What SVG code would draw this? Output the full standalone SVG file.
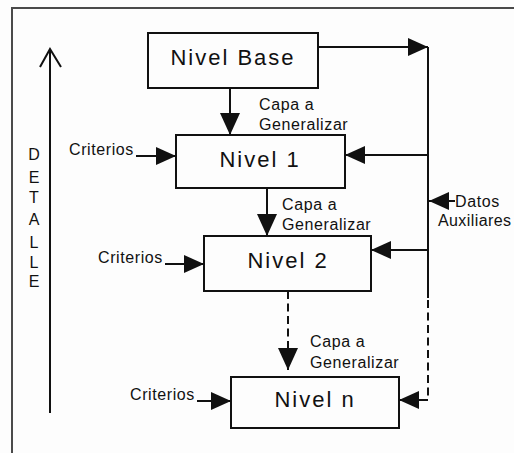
<svg xmlns="http://www.w3.org/2000/svg" width="514" height="453" viewBox="0 0 514 453">
  <style>
    .bg { fill: #fdfdfd; }
    .frame { fill: none; stroke: #4a4a4a; stroke-width: 2; }
    .box { fill: #fdfdfd; stroke: #111; stroke-width: 2; }
    .lvl { font-family: "Liberation Sans", Arial, sans-serif; font-size: 22px; letter-spacing: 2px; fill: #111; text-anchor: middle; }
    .lbl { font-family: "Liberation Sans", Arial, sans-serif; font-size: 16px; letter-spacing: 0.6px; fill: #111; }
    .axis { font-family: "Liberation Sans", Arial, sans-serif; font-size: 16px; fill: #111; text-anchor: middle; }
    .ln { fill: none; stroke: #111; stroke-width: 2; }
    .dash { fill: none; stroke: #111; stroke-width: 2; stroke-dasharray: 8 4.5; }
    .head { fill: #111; stroke: none; }
  </style>
  <defs>
    <marker id="tri" markerUnits="userSpaceOnUse" markerWidth="22" markerHeight="20" refX="22" refY="10" orient="auto">
      <path class="head" d="M0,0 L22,10 L0,20 z"/>
    </marker>
    <marker id="triS" markerUnits="userSpaceOnUse" markerWidth="20" markerHeight="18" refX="20" refY="9" orient="auto">
      <path class="head" d="M0,0 L20,9 L0,18 z"/>
    </marker>
  </defs>

  <rect class="bg" x="0" y="0" width="514" height="453"/>
  <rect class="frame" x="12" y="8" width="530" height="470"/>

  <!-- detail axis -->
  <g id="detalle">
    <line class="ln" x1="50" y1="49" x2="50" y2="413"/>
    <polyline class="ln" points="40,67 50,49 61,67"/>
    <text class="axis" x="34" y="160">D</text>
    <text class="axis" x="34" y="183">E</text>
    <text class="axis" x="34" y="203">T</text>
    <text class="axis" x="34" y="225">A</text>
    <text class="axis" x="34" y="248">L</text>
    <text class="axis" x="34" y="268">L</text>
    <text class="axis" x="34" y="287">E</text>
  </g>

  <!-- level boxes -->
  <g id="nivel-base">
    <rect class="box" x="148" y="33" width="170" height="55"/>
    <text class="lvl" x="233" y="65">Nivel Base</text>
  </g>
  <g id="nivel-1">
    <rect class="box" x="176" y="135" width="169" height="53"/>
    <text class="lvl" x="260" y="167">Nivel 1</text>
  </g>
  <g id="nivel-2">
    <rect class="box" x="204" y="236" width="167" height="55"/>
    <text class="lvl" x="288" y="268">Nivel 2</text>
  </g>
  <g id="nivel-n">
    <rect class="box" x="231" y="377" width="168" height="51"/>
    <text class="lvl" x="315" y="407">Nivel n</text>
  </g>

  <!-- labels -->
  <g id="etiquetas">
    <text class="lbl" x="259" y="110">Capa a</text>
    <text class="lbl" x="259" y="130">Generalizar</text>
    <text class="lbl" x="282" y="210">Capa a</text>
    <text class="lbl" x="282" y="230">Generalizar</text>
    <text class="lbl" x="310" y="347">Capa a</text>
    <text class="lbl" x="310" y="368">Generalizar</text>
    <text class="lbl" x="69" y="155">Criterios</text>
    <text class="lbl" x="98" y="263">Criterios</text>
    <text class="lbl" x="130" y="400">Criterios</text>
    <text class="lbl" x="455" y="207">Datos</text>
    <text class="lbl" x="438" y="226" style="letter-spacing:0.4px">Auxiliares</text>
  </g>

  <!-- connectors -->
  <g id="conectores">
    <!-- generalisation chain -->
    <line class="ln" x1="230" y1="88" x2="230" y2="135" marker-end="url(#tri)"/>
    <line class="ln" x1="267" y1="188" x2="267" y2="236" marker-end="url(#tri)"/>
    <line class="dash" x1="288" y1="291" x2="288" y2="370" marker-end="url(#tri)"/>

    <!-- criteria inputs -->
    <line class="ln" x1="136" y1="156" x2="176" y2="156" marker-end="url(#triS)"/>
    <line class="ln" x1="165" y1="264" x2="204" y2="264" marker-end="url(#triS)"/>
    <line class="ln" x1="197" y1="401" x2="231" y2="401" marker-end="url(#triS)"/>

    <!-- auxiliary data bus -->
    <line class="ln" x1="318" y1="47" x2="428" y2="47" marker-end="url(#triS)"/>
    <line class="ln" x1="428" y1="47" x2="428" y2="298"/>
    <line class="dash" x1="428" y1="300" x2="428" y2="400"/>
    <line class="ln" x1="428" y1="155" x2="345" y2="155" marker-end="url(#triS)"/>
    <line class="ln" x1="428" y1="250" x2="371" y2="250" marker-end="url(#triS)"/>
    <line class="ln" x1="428" y1="400" x2="399" y2="400" marker-end="url(#triS)"/>
    <line class="ln" x1="455" y1="201" x2="429" y2="201" marker-end="url(#triS)"/>
  </g>
</svg>
